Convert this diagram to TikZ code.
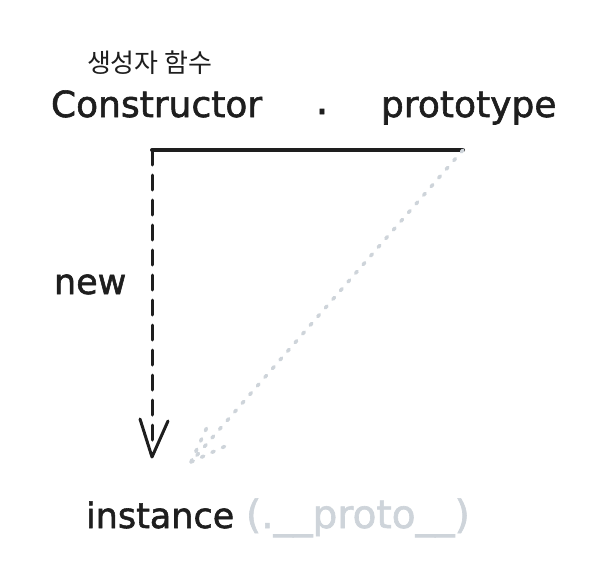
\documentclass[tikz,border=0pt]{standalone}
\usepackage{fontspec}
\setmainfont{DejaVu Sans}[FakeBold=1.6]
\newfontfamily\krfont{Noto Sans CJK KR}
\definecolor{protogray}{HTML}{CED4DA}
\definecolor{ink}{HTML}{1E1E1E}
\begin{document}
\begin{tikzpicture}[x=1pt,y=-1pt,
  lbl/.style={inner sep=0pt,outer sep=0pt,text=ink,font=\fontsize{35}{40}\selectfont},
  solidline/.style={draw=ink,line width=4pt,line cap=round},
  newline/.style={draw=ink,line width=3pt,dash pattern=on 15pt off 10pt,line cap=round},
  newhead/.style={draw=ink,line width=3pt,line cap=round,line join=round},
  protoline/.style={draw=protogray,line width=3.5pt,line cap=round,dash pattern=on 2.5pt off 9pt}]
\fill[white] (0,0) rectangle (610,562);
\useasboundingbox (0,0) rectangle (610,562);
% texts
\node[lbl,anchor=base west,font=\krfont\fontsize{26}{30}\selectfont] (kr) at (87,72) {생성자 함수};
\node[lbl,anchor=base west,font=\fontsize{36}{42}\selectfont] (ctor) at (51,117) {Constructor};
\node[lbl,anchor=base,font=\fontsize{40}{44}\selectfont] (dot) at (322,114) {.};
\node[lbl,anchor=base west,font=\fontsize{36}{42}\selectfont] (proto) at (381,117) {prototype};
\node[lbl,anchor=base west] (new) at (54,294) {new};
\node[lbl,anchor=base west] (inst) at (86,528) {instance};
\node[lbl,anchor=base west,text=protogray,font=\fontsize{39}{44}\selectfont] (pp) at (246,528) {(.\_\_proto\_\_)};
% connector points
\coordinate (hl) at (152,150);
\coordinate (hr) at (463,150);
\coordinate (tip) at (152,457);
\coordinate (wl) at (140,419);
\coordinate (wr) at (168,421);
\coordinate (ptip) at (191,462);
\coordinate (pwl) at (208,425);
\coordinate (pwr) at (230,444);
% lines
\draw[solidline] (hl) -- (hr);
\draw[newline] (hl) -- (152,445);
\draw[newhead] (wl) -- (tip) -- (wr);
\draw[protoline] (hr) -- (ptip);
\draw[protoline] (ptip) -- (pwl);
\draw[protoline] (ptip) -- (pwr);
\end{tikzpicture}
\end{document}
